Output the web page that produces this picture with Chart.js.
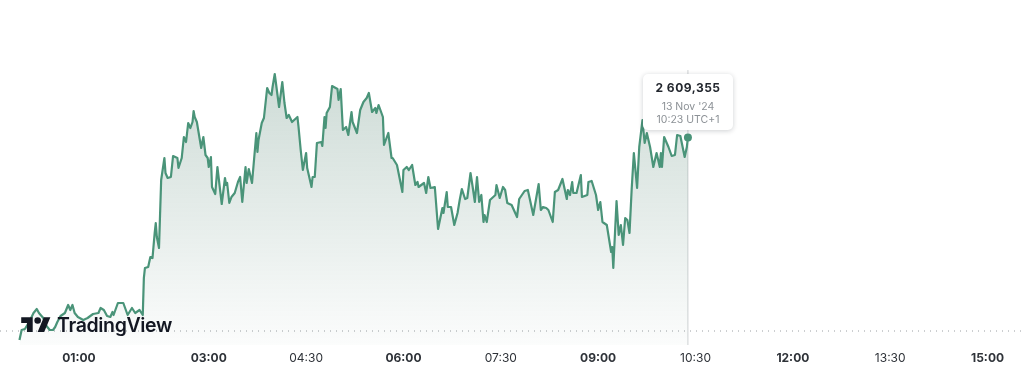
<!DOCTYPE html>
<html>
<head>
<meta charset="utf-8">
<script src="https://cdn.jsdelivr.net/npm/chart.js@4"></script>
<style>
html,body{margin:0;padding:0;background:#fff;width:1024px;height:390px;overflow:hidden;font-family:Inter,sans-serif}
#wrap{position:relative;width:1024px;height:390px}
#tip{position:absolute;left:643px;top:74px;width:90px;height:56px;background:#fff;border-radius:5px;box-shadow:0 1px 5px rgba(30,40,50,.22);text-align:center;color:#8c9196;font-size:10.5px;line-height:13px}
#tip b{display:block;color:#23272e;font-size:12px;font-weight:700;line-height:15px;padding-top:6px;padding-bottom:5px;letter-spacing:.5px}
#logo{position:absolute;left:21px;top:314px;height:22px;display:flex;align-items:center;color:#131722}
#logo span{font-size:19.5px;font-weight:600;letter-spacing:-.35px;margin-left:6px;line-height:22px}
</style>
</head>
<body>
<div id="wrap">
<canvas id="c" width="1024" height="390"></canvas>
<div id="logo"><svg width="30" height="23" viewBox="0 0 36 28"><path fill="#131722" d="M14 22H7V11H0V4h14v18zM28 22h-8l7.5-18h8L28 22z"/><circle fill="#131722" cx="20" cy="8" r="4"/></svg><span>TradingView</span></div>
<div id="tip"><b>2 609,355</b>13 Nov '24<br>10:23 UTC+1</div>
</div>
<script>
const tickMinutes=[60,180,270,360,450,540,630,720,810,900];
const tickLabels=["01:00","03:00","04:30","06:00","07:30","09:00","10:30","12:00","13:30","15:00"];
const boldTicks=["01:00","03:00","06:00","09:00","12:00","15:00"];
const previousClose=2590.0;
const minutes=[5,7,10,14,18,21,23,27,30,33,36,38,40,43,47,50,52,54,56,59,64,68,73,78,80,83,86,89,91,92,96,101,105,109,112,116,119,120,121,124,126,128,130,131,132,134,136,139,140,142,145,147,151,152,155,157,159,161,163,165,166,167,169,173,175,177,179,180,182,183,186,188,192,195,196,197,199,201,204,207,209,211,214,215,217,220,224,225,226,229,231,234,236,238,239,241,245,248,250,252,254,257,262,263,265,267,270,271,275,276,278,280,284,285,287,288,289,292,294,299,300,302,304,307,309,312,313,317,320,323,326,328,331,334,335,337,341,342,346,349,350,354,359,360,363,365,368,371,373,374,379,381,383,385,389,392,396,397,400,401,404,407,410,412,414,417,419,422,424,426,428,430,432,434,435,437,440,445,446,449,452,454,456,460,465,467,472,475,480,485,487,489,492,494,498,500,503,507,511,512,514,516,517,520,524,525,530,531,534,538,540,542,544,548,552,553,554,557,559,561,563,565,567,569,571,573,576,578,581,582,583,585,588,591,594,597,598,599,601,605,608,611,613,616,620,622,623];
const prices=[2589.1,2590.1,2590.2,2590.9,2591.8,2592.2,2591.8,2591.3,2590.5,2590.1,2590.1,2590.4,2590.9,2591.5,2591.8,2592.6,2592.1,2592.6,2591.8,2591.4,2591.1,2591.3,2591.7,2591.8,2592.3,2592.1,2591.5,2591.4,2591.9,2591.6,2592.8,2592.8,2591.6,2592.3,2591.8,2592.1,2591.6,2595.3,2596.3,2596.4,2597.4,2597.3,2599.8,2600.8,2599.4,2598.3,2605.1,2607.3,2605.8,2605.3,2605.4,2607.5,2607.3,2606.3,2607.3,2609.4,2608.9,2610.8,2610.3,2610.9,2612.0,2611.4,2610.9,2608.3,2609.4,2607.6,2607.3,2606.4,2607.4,2604.4,2603.7,2606.4,2602.7,2605.3,2604.6,2604.8,2602.8,2603.4,2603.8,2604.9,2605.4,2602.9,2606.4,2604.8,2606.2,2604.8,2609.8,2607.9,2609.1,2610.8,2611.3,2614.3,2613.8,2613.6,2614.4,2615.7,2612.4,2614.9,2612.8,2611.3,2611.6,2610.9,2611.4,2610.4,2608.1,2606.1,2607.8,2606.3,2604.4,2605.4,2605.4,2608.8,2608.9,2608.5,2611.4,2610.3,2611.8,2612.4,2614.5,2614.2,2613.1,2614.2,2610.1,2610.4,2609.6,2611.9,2610.9,2609.8,2612.1,2612.9,2613.3,2613.8,2611.9,2612.3,2611.8,2612.6,2611.4,2608.6,2609.8,2607.3,2607.3,2606.6,2603.9,2606.1,2606.4,2606.1,2606.6,2604.6,2604.9,2604.4,2604.8,2603.8,2605.4,2604.3,2604.4,2600.2,2602.3,2601.8,2603.9,2602.4,2602.4,2600.6,2601.8,2603.1,2604.2,2603.2,2603.3,2605.8,2604.4,2602.9,2605.4,2602.9,2603.6,2600.9,2601.6,2600.9,2603.1,2603.6,2604.6,2603.3,2604.4,2604.1,2602.8,2602.6,2601.4,2603.2,2604.0,2604.1,2601.6,2604.7,2602.1,2602.4,2602.3,2602.1,2600.9,2603.9,2604.1,2605.2,2603.2,2604.1,2603.6,2604.9,2603.8,2603.8,2605.6,2603.4,2603.6,2604.9,2605.0,2603.6,2602.1,2602.9,2600.9,2600.6,2597.9,2598.4,2596.3,2603.0,2599.6,2600.6,2598.6,2601.3,2601.1,2599.8,2604.2,2607.8,2604.3,2608.4,2611.1,2609.9,2608.8,2609.8,2608.4,2606.4,2607.8,2606.4,2607.8,2606.4,2609.4,2608.4,2607.5,2607.6,2609.6,2609.5,2607.4,2608.4,2609.355];
const xMin=-13,xMax=933.7,yMin=2588.6,yMax=2623.1;
const crossTop=2616.1;
const lineColor='#4a9479';
const n=Math.min(minutes.length,prices.length);
const series=[];for(let i=0;i<n;i++)series.push({x:minutes[i],y:prices[i]});
const last=series[n-1];
new Chart(document.getElementById('c'),{
  type:'line',
  data:{datasets:[
    {data:[{x:last.x,y:last.y}],pointRadius:4,pointBackgroundColor:lineColor,pointBorderWidth:0,showLine:false,order:0},
    {data:series,borderColor:lineColor,borderWidth:2.2,pointRadius:0,tension:0,borderJoinStyle:'round',
     fill:'start',
     backgroundColor(ctx){const a=ctx.chart.chartArea;if(!a)return 'transparent';
       const g=ctx.chart.ctx.createLinearGradient(0,70,0,a.bottom);
       g.addColorStop(0,'rgba(62,116,96,0.26)');g.addColorStop(1,'rgba(62,116,96,0.02)');return g;},order:1},
    {data:[{x:xMin,y:previousClose},{x:xMax,y:previousClose}],borderColor:'#9a9ea2',borderWidth:1,borderDash:[1,5],pointRadius:0,order:2},
    {data:[{x:last.x,y:yMin},{x:last.x,y:crossTop}],borderColor:'#cfd2d4',borderWidth:1,pointRadius:0,order:3}
  ]},
  options:{
    responsive:false,animation:false,
    layout:{padding:0,autoPadding:false},
    plugins:{legend:{display:false},tooltip:{enabled:false}},
    scales:{
      x:{type:'linear',min:xMin,max:xMax,
        afterBuildTicks(s){s.ticks=tickMinutes.map(v=>({value:v}));},
        afterFit(s){s.height=45;},
        grid:{display:false,drawTicks:false},border:{display:false},
        ticks:{autoSkip:false,maxRotation:0,padding:6,color:'#2e3238',
          callback(v){return tickLabels[tickMinutes.indexOf(v)];},
          font(c){const l=tickLabels[c.index];return {family:'Inter',size:12,weight:boldTicks.includes(l)?'700':'400'};}}},
      y:{display:false,min:yMin,max:yMax}
    }
  }
});
</script>
</body>
</html>
